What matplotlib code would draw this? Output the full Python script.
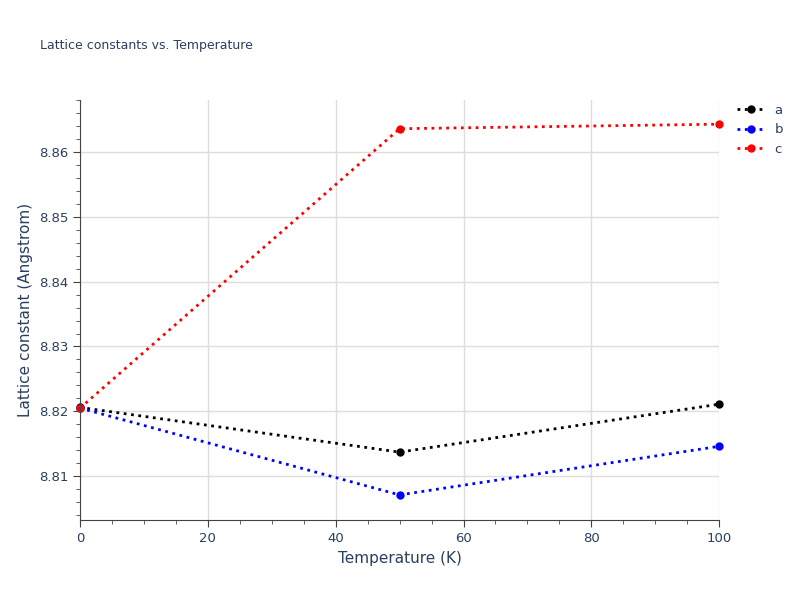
import matplotlib
matplotlib.use("Agg")
import matplotlib.pyplot as plt
from matplotlib.ticker import MultipleLocator

temps = [0, 50, 100]
a_vals = [8.8206, 8.8137, 8.8211]
b_vals = [8.8205, 8.8071, 8.8146]
c_vals = [8.8205, 8.8636, 8.8643]
series = [("a", a_vals, "black"), ("b", b_vals, "blue"), ("c", c_vals, "red")]

fig = plt.figure(figsize=(8, 6), dpi=100)
ax = fig.add_axes([0.1, 0.133, 0.799, 0.7])
for name, vals, col in series:
    ax.plot(temps, vals, linestyle=":", linewidth=2, color=col, marker="o", markersize=5,
            label=name, clip_on=False)

ax.set_xlim(0, 100)
ax.set_ylim(8.8032, 8.868)
ax.xaxis.set_major_locator(MultipleLocator(20))
ax.xaxis.set_minor_locator(MultipleLocator(5))
ax.yaxis.set_major_locator(MultipleLocator(0.01))
ax.yaxis.set_minor_locator(MultipleLocator(0.002))
ax.yaxis.set_major_formatter(matplotlib.ticker.FormatStrFormatter("%.2f"))
ax.grid(True, which="major", color="#dddddd", linewidth=1)
ax.set_axisbelow(True)
for s in ["top", "right"]:
    ax.spines[s].set_visible(False)
for s in ["left", "bottom"]:
    ax.spines[s].set_color("#444444")
ax.tick_params(colors="#444444", labelcolor="#2a3f5f", labelsize=9.5, length=5)
ax.tick_params(which="minor", length=3, colors="#444444")
ax.set_xlabel("Temperature (K)", color="#2a3f5f", fontsize=11)
ax.set_ylabel("Lattice constant (Angstrom)", color="#2a3f5f", fontsize=11)
fig.text(0.05, 0.918, "Lattice constants vs. Temperature", color="#2a3f5f", fontsize=9)
leg = ax.legend(loc="upper left", bbox_to_anchor=(1.01, 1.02), frameon=False, fontsize=9.5,
                handlelength=2, labelspacing=0.5)
for t in leg.get_texts():
    t.set_color("#2a3f5f")
fig.savefig("out.png", dpi=100)
